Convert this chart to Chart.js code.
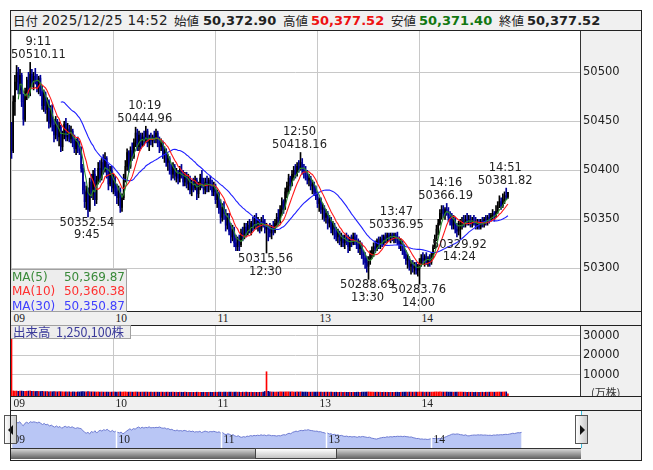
<!DOCTYPE html>
<html lang="ja">
<head>
<meta charset="utf-8">
<title>日経平均 分足</title>
<script src="https://cdn.jsdelivr.net/npm/chart.js@4.4.1/dist/chart.umd.min.js"></script>
<style>
  html, body { margin: 0; padding: 0; }
  body { width: 653px; height: 470px; position: relative; overflow: hidden; background: #fff;
         font-family: "DejaVu Sans", sans-serif; color: #222; }
  .a { position: absolute; }
  .grey { background: #f0f0f0; }
  .hl { position: absolute; height: 1px; background: #222; }
  .t { position: absolute; white-space: nowrap; }
  .hk { top: 11px; font: 12.5px/19px "Noto Sans CJK JP", sans-serif; color: #222; }
  .hd { top: 11px; font: 13.5px/19px "DejaVu Sans", sans-serif; letter-spacing: 0.3px; }
  .hv { top: 11px; font: bold 13px/19px "DejaVu Sans", sans-serif; }
  .hr { font: 11.5px/13px "Liberation Serif", serif; color: #222; }
  .lg { position: absolute; background: rgba(236, 236, 236, 0.92); border: 1px solid #a0a0a0; box-sizing: border-box; }
  .lg div { display: flex; justify-content: space-between; font: 12px/14.3px "DejaVu Sans", sans-serif; padding: 0 1px; }
  canvas { display: block; }
  .btn { position: absolute; width: 13px; height: 29px; box-sizing: border-box; border: 1px solid #555;
         background: linear-gradient(90deg, #fdfdfd, #c9c9c9); }
</style>
</head>
<body>
<!-- header -->
<div class="a grey" style="left:11px;top:11px;width:630px;height:19px"></div>
<span class="t hk" style="left:13px">日付</span>
<span class="t hd" style="left:42px">2025/12/25 14:52</span>
<span class="t hk" style="left:174px">始値</span>
<span class="t hv" style="left:203px">50,372.90</span>
<span class="t hk" style="left:283px">高値</span>
<span class="t hv" style="left:311px;color:#ee1111">50,377.52</span>
<span class="t hk" style="left:391px">安値</span>
<span class="t hv" style="left:419px;color:#117711">50,371.40</span>
<span class="t hk" style="left:499px">終値</span>
<span class="t hv" style="left:527px">50,377.52</span>
<div class="hl" style="left:10px;top:30px;width:632px"></div>

<!-- price panel -->
<div class="a grey" style="left:11px;top:31px;width:630px;height:280px"><canvas id="main" width="630" height="280"></canvas></div>
<div class="hl" style="left:10px;top:311px;width:632px"></div>
<div class="a grey" id="strip1" style="left:11px;top:312px;width:630px;height:13px"></div>
<div class="hl" style="left:10px;top:325px;width:632px"></div>

<!-- volume panel -->
<div class="a grey" style="left:11px;top:326px;width:630px;height:70px"><canvas id="vol" width="630" height="70"></canvas></div>
<span class="t" style="left:591px;top:385px;font:11px/14px 'Noto Sans CJK JP',sans-serif;color:#333">(万株)</span>
<div class="hl" style="left:10px;top:396px;width:632px"></div>
<div class="a grey" id="strip2" style="left:11px;top:397px;width:630px;height:13px"></div>
<div class="hl" style="left:10px;top:410px;width:632px"></div>

<!-- navigator -->
<div class="a grey" style="left:581px;top:411px;width:60px;height:49px"></div>
<div class="a" style="left:11px;top:411px;width:570px;height:37px;background:#fff"><canvas id="nav" width="570" height="37"></canvas></div>
<div class="a" style="left:11px;top:448px;width:570px;height:11px;box-sizing:border-box;border-top:1px solid #333;background:linear-gradient(#d6d6d6,#5e5e5e)"></div>
<div class="a" style="left:255px;top:448px;width:82px;height:11px;box-sizing:border-box;border:1px solid #444;background:linear-gradient(#ffffff,#c4c4c4)"></div>
<div class="a" style="left:10px;top:411px;width:1px;height:37px;background:#3cc0e0"></div>
<div class="a" style="left:581px;top:411px;width:1px;height:37px;background:#3cc0e0"></div>
<div class="btn" style="left:4px;top:415px"><div class="a" style="left:3px;top:9px;border-right:5px solid #111;border-top:5px solid transparent;border-bottom:5px solid transparent"></div></div>
<div class="btn" style="left:575px;top:415px"><div class="a" style="left:4px;top:9px;border-left:5px solid #111;border-top:5px solid transparent;border-bottom:5px solid transparent"></div></div>

<!-- legends -->
<div class="lg" style="left:10px;top:269px;width:117px;height:43px">
  <div style="color:#3a8a3a"><span>MA(5)</span><span>50,369.87</span></div>
  <div style="color:#ff3030"><span>MA(10)</span><span>50,360.38</span></div>
  <div style="color:#4040ff"><span>MA(30)</span><span>50,350.87</span></div>
</div>
<div class="lg" style="left:10px;top:325px;width:121px;height:14px;font:12.5px/12px 'Noto Sans CJK JP',sans-serif;color:#3a3a9a;padding-left:2px">出来高&nbsp;&nbsp;1,250,100株</div>

<!-- outer frame -->
<div class="a" style="left:10px;top:10px;width:632px;height:451px;border:1px solid #222;box-sizing:border-box;pointer-events:none"></div>

<script>
// ---- session slots: 09:00-11:30 and 12:30-14:52, one slot per minute
const hourIdx = [0, 60, 120, 180, 240];
const hourLabels = ['09', '10', '11', '13', '14'];
const priceTicks = [50300, 50350, 50400, 50450, 50500];
const volTicks = [10000, 20000, 30000];

const opens = [
  50448, 50420, 50470, 50490, 50500, 50482, 50497, 50470, 50452, 50480,
  50492, 50478, 50498, 50490, 50496, 50492, 50484, 50494, 50480, 50466,
  50478, 50462, 50470, 50448, 50460, 50446, 50436, 50450, 50434, 50444,
  50424, 50436, 50447, 50434, 50442, 50432, 50440, 50428, 50422, 50430,
  50424, 50420, 50402, 50380, 50368, 50378, 50360, 50388, 50376, 50396,
  50370, 50390, 50402, 50392, 50408, 50400, 50412, 50396, 50386, 50400,
  50382, 50392, 50378, 50372, 50380, 50362, 50372, 50392, 50404, 50418,
  50404, 50420, 50414, 50428, 50438, 50424, 50436, 50426, 50434, 50430,
  50440, 50428, 50432, 50430, 50434, 50432, 50438, 50428, 50424, 50428,
  50416, 50420, 50408, 50412, 50400, 50396, 50404, 50394, 50398, 50392,
  50400, 50396, 50388, 50394, 50386, 50392, 50380, 50386, 50382, 50390,
  50376, 50384, 50392, 50386, 50380, 50388, 50384, 50390, 50384, 50378,
  50384, 50370, 50376, 50360, 50352, 50362, 50356, 50344, 50352, 50338,
  50332, 50340, 50326, 50322, 50330, 50324, 50336, 50332, 50342, 50336,
  50344, 50340, 50346, 50342, 50350, 50344, 50348, 50340, 50348, 50346,
  50340, 50342, 50340, 50336, 50342, 50338, 50346, 50352, 50348, 50360,
  50368, 50362, 50378, 50384, 50392, 50386, 50396, 50400, 50396, 50404,
  50402, 50408, 50400, 50398, 50394, 50390, 50392, 50384, 50386, 50378,
  50374, 50366, 50370, 50360, 50362, 50352, 50356, 50346, 50350, 50340,
  50344, 50336, 50332, 50336, 50328, 50332, 50326, 50330, 50328, 50322,
  50330, 50326, 50332, 50328, 50324, 50320, 50324, 50314, 50310, 50306,
  50302, 50308, 50314, 50318, 50322, 50320, 50328, 50324, 50330, 50326,
  50332, 50330, 50334, 50332, 50334, 50330, 50334, 50330, 50328, 50324,
  50326, 50318, 50314, 50308, 50310, 50302, 50304, 50300, 50302, 50298,
  50300, 50306, 50310, 50308, 50312, 50306, 50310, 50306, 50314, 50322,
  50330, 50340, 50346, 50356, 50360, 50356, 50360, 50358, 50352, 50350,
  50344, 50350, 50340, 50338, 50344, 50346, 50348, 50346, 50350, 50348,
  50350, 50346, 50348, 50346, 50344, 50346, 50342, 50348, 50346, 50350,
  50348, 50352, 50350, 50354, 50356, 50354, 50358, 50362, 50368, 50364,
  50370, 50374, 50372.9
];
const highs = [
  50449, 50476, 50497, 50507, 50505, 50503, 50499, 50478, 50484, 50495,
  50500, 50510.11, 50503, 50500, 50504, 50498, 50496, 50497, 50486, 50482,
  50480, 50474, 50472, 50466, 50467, 50452, 50455, 50452, 50449, 50446,
  50440, 50450, 50453, 50448, 50446, 50445, 50442, 50436, 50432, 50434,
  50430, 50424, 50406, 50388, 50384, 50382, 50392, 50396, 50400, 50402,
  50394, 50408, 50410, 50412, 50416, 50418, 50414, 50406, 50404, 50404,
  50396, 50394, 50386, 50384, 50382, 50376, 50396, 50410, 50422, 50420,
  50424, 50428, 50432, 50444, 50442, 50440, 50438, 50438, 50440, 50444.96,
  50442, 50436, 50438, 50436, 50440, 50442, 50440, 50434, 50432, 50430,
  50424, 50422, 50416, 50414, 50406, 50408, 50406, 50402, 50400, 50404,
  50406, 50400, 50398, 50398, 50396, 50394, 50390, 50392, 50394, 50392,
  50388, 50396, 50400, 50392, 50392, 50394, 50392, 50394, 50390, 50388,
  50386, 50380, 50378, 50370, 50366, 50368, 50360, 50356, 50356, 50346,
  50344, 50342, 50334, 50332, 50334, 50340, 50342, 50346, 50346, 50348,
  50350, 50348, 50352, 50354, 50356, 50352, 50350, 50352, 50354, 50350,
  50346, 50344, 50346, 50344, 50348, 50350, 50356, 50360, 50364, 50372,
  50370, 50382, 50388, 50396, 50394, 50400, 50404, 50406, 50408, 50410,
  50418.16, 50412, 50406, 50404, 50400, 50396, 50394, 50390, 50388, 50384,
  50378, 50372, 50372, 50366, 50364, 50360, 50358, 50354, 50352, 50348,
  50346, 50342, 50340, 50338, 50336, 50334, 50334, 50336, 50334, 50332,
  50334, 50336, 50336, 50334, 50330, 50328, 50326, 50318, 50316, 50312,
  50312, 50318, 50322, 50326, 50328, 50330, 50332, 50332, 50334, 50334,
  50336, 50336, 50336, 50336, 50336, 50336, 50336, 50336.95, 50332, 50330,
  50328, 50324, 50318, 50314, 50312, 50308, 50308, 50306, 50306, 50304,
  50310, 50314, 50316, 50314, 50316, 50312, 50314, 50316, 50324, 50334,
  50344, 50350, 50360, 50364, 50364, 50362, 50366.19, 50362, 50358, 50356,
  50354, 50352, 50346, 50348, 50350, 50352, 50354, 50354, 50356, 50354,
  50354, 50352, 50354, 50352, 50350, 50350, 50350, 50352, 50352, 50354,
  50354, 50356, 50356, 50360, 50358, 50364, 50368, 50374, 50372, 50376,
  50378, 50381.82, 50377.52
];
const lows = [
  50412, 50418, 50456, 50482, 50478, 50478, 50465, 50446, 50450, 50472,
  50474, 50476, 50485, 50482, 50488, 50480, 50478, 50476, 50462, 50460,
  50458, 50450, 50443, 50444, 50440, 50429, 50432, 50430, 50425, 50419,
  50420, 50432, 50430, 50430, 50429, 50428, 50424, 50418, 50416, 50418,
  50416, 50398, 50376, 50362, 50360, 50352.54, 50358, 50372, 50370, 50364,
  50366, 50386, 50388, 50390, 50396, 50398, 50392, 50380, 50384, 50378,
  50376, 50374, 50366, 50364, 50357, 50358, 50370, 50388, 50400, 50398,
  50402, 50410, 50412, 50424, 50420, 50420, 50422, 50424, 50426, 50428,
  50424, 50420, 50426, 50424, 50428, 50428, 50424, 50418, 50420, 50412,
  50408, 50404, 50400, 50396, 50390, 50392, 50390, 50388, 50386, 50388,
  50392, 50384, 50384, 50382, 50380, 50376, 50374, 50378, 50380, 50370,
  50372, 50380, 50382, 50376, 50376, 50378, 50378, 50380, 50374, 50374,
  50366, 50362, 50356, 50346, 50348, 50350, 50338, 50340, 50334, 50326,
  50328, 50322, 50318, 50318, 50318, 50322, 50328, 50330, 50332, 50334,
  50336, 50334, 50338, 50340, 50340, 50338, 50336, 50338, 50342, 50336,
  50315.56, 50328, 50332, 50330, 50334, 50336, 50342, 50344, 50346, 50354,
  50356, 50360, 50372, 50376, 50380, 50384, 50390, 50392, 50394, 50398,
  50400, 50396, 50392, 50390, 50386, 50384, 50380, 50376, 50374, 50370,
  50362, 50358, 50356, 50350, 50348, 50346, 50340, 50342, 50336, 50334,
  50330, 50328, 50326, 50324, 50322, 50322, 50320, 50324, 50316, 50318,
  50322, 50324, 50324, 50320, 50316, 50314, 50310, 50304, 50300, 50296,
  50288.69, 50304, 50310, 50312, 50316, 50318, 50320, 50320, 50322, 50324,
  50326, 50326, 50328, 50326, 50328, 50326, 50326, 50324, 50320, 50318,
  50314, 50310, 50304, 50300, 50298, 50294, 50296, 50294, 50294, 50292,
  50283.76, 50302, 50304, 50302, 50304, 50302, 50302, 50304, 50310, 50320,
  50328, 50334, 50344, 50350, 50352, 50350, 50354, 50348, 50344, 50340,
  50340, 50336, 50332, 50334, 50329.92, 50340, 50342, 50342, 50344, 50344,
  50342, 50342, 50344, 50340, 50340, 50340, 50340, 50342, 50342, 50344,
  50344, 50346, 50348, 50350, 50348, 50352, 50356, 50362, 50360, 50362,
  50366, 50370, 50371.4
];
const closes = [
  50420, 50470, 50490, 50500, 50482, 50497, 50470, 50452, 50480, 50492,
  50478, 50498, 50490, 50496, 50492, 50484, 50494, 50480, 50466, 50478,
  50462, 50470, 50448, 50460, 50446, 50436, 50450, 50434, 50444, 50424,
  50436, 50447, 50434, 50442, 50432, 50440, 50428, 50422, 50430, 50424,
  50420, 50402, 50380, 50368, 50378, 50360, 50388, 50376, 50396, 50370,
  50390, 50402, 50392, 50408, 50400, 50412, 50396, 50386, 50400, 50382,
  50392, 50378, 50372, 50380, 50362, 50372, 50392, 50404, 50418, 50404,
  50420, 50414, 50428, 50438, 50424, 50436, 50426, 50434, 50430, 50440,
  50428, 50432, 50430, 50434, 50432, 50438, 50428, 50424, 50428, 50416,
  50420, 50408, 50412, 50400, 50396, 50404, 50394, 50398, 50392, 50400,
  50396, 50388, 50394, 50386, 50392, 50380, 50386, 50382, 50390, 50376,
  50384, 50392, 50386, 50380, 50388, 50384, 50390, 50384, 50378, 50384,
  50370, 50376, 50360, 50352, 50362, 50356, 50344, 50352, 50338, 50332,
  50340, 50326, 50322, 50330, 50324, 50336, 50332, 50342, 50336, 50344,
  50340, 50346, 50342, 50350, 50344, 50348, 50340, 50348, 50346, 50340,
  50342, 50340, 50336, 50342, 50338, 50346, 50352, 50348, 50360, 50368,
  50362, 50378, 50384, 50392, 50386, 50396, 50400, 50396, 50404, 50402,
  50408, 50400, 50398, 50394, 50390, 50392, 50384, 50386, 50378, 50374,
  50366, 50370, 50360, 50362, 50352, 50356, 50346, 50350, 50340, 50344,
  50336, 50332, 50336, 50328, 50332, 50326, 50330, 50328, 50322, 50330,
  50326, 50332, 50328, 50324, 50320, 50324, 50314, 50310, 50306, 50302,
  50308, 50314, 50318, 50322, 50320, 50328, 50324, 50330, 50326, 50332,
  50330, 50334, 50332, 50334, 50330, 50334, 50330, 50328, 50324, 50326,
  50318, 50314, 50308, 50310, 50302, 50304, 50300, 50302, 50298, 50300,
  50306, 50310, 50308, 50312, 50306, 50310, 50306, 50314, 50322, 50330,
  50340, 50346, 50356, 50360, 50356, 50360, 50358, 50352, 50350, 50344,
  50350, 50340, 50338, 50344, 50346, 50348, 50346, 50350, 50348, 50350,
  50346, 50348, 50346, 50344, 50346, 50342, 50348, 50346, 50350, 50348,
  50352, 50350, 50354, 50356, 50354, 50358, 50362, 50368, 50364, 50370,
  50374, 50372.9, 50377.52
];
// volume in 万株
const volumes = [
  36000, 1620, 1480, 1550, 1390, 1460, 1520, 1410, 1380, 1440,
  1500, 1560, 1350, 1420, 1300, 1380, 1330, 1290, 1360, 1270,
  1240, 1310, 1180, 1220, 1150, 1260, 1190, 1120, 1210, 1170,
  1130, 1090, 1160, 1080, 1120, 1050, 1100, 1070, 1040, 1110,
  1060, 1180, 1230, 1150, 1120, 1200, 1140, 1090, 1130, 1070,
  1040, 1080, 1020, 1060, 990, 1050, 1010, 980, 1030, 1000,
  1070, 1020, 990, 1040, 1080, 1010, 1050, 1090, 1030, 1000,
  1020, 980, 1040, 1060, 1010, 990, 970, 1000, 960, 1030,
  990, 950, 980, 940, 970, 1000, 960, 930, 980, 950,
  920, 960, 940, 910, 950, 930, 900, 940, 920, 960,
  910, 890, 930, 900, 880, 920, 890, 870, 910, 940,
  900, 880, 920, 890, 860, 900, 880, 910, 870, 890,
  930, 900, 950, 970, 920, 940, 980, 930, 960, 990,
  950, 970, 1000, 940, 960, 920, 950, 900, 930, 910,
  890, 920, 880, 900, 870, 910, 890, 920, 950, 1300,
  11500, 1380, 1120, 1050, 1010, 980, 1030, 1000, 1060, 1090,
  1040, 1100, 1070, 1120, 1050, 1080, 1030, 1000, 1060, 1020,
  1110, 1040, 990, 1020, 970, 1000, 960, 990, 950, 980,
  1010, 960, 990, 940, 970, 950, 980, 930, 960, 940,
  910, 950, 920, 900, 930, 890, 920, 880, 910, 900,
  870, 900, 880, 920, 940, 910, 960, 980, 1000, 1030,
  1080, 1010, 970, 950, 930, 960, 920, 940, 900, 930,
  890, 910, 880, 900, 870, 890, 910, 930, 900, 920,
  950, 970, 990, 960, 1000, 970, 950, 980, 940, 960,
  1050, 990, 960, 940, 970, 930, 950, 980, 1020, 1060,
  1090, 1040, 1080, 1020, 1000, 990, 1030, 970, 950, 980,
  940, 970, 950, 990, 1010, 960, 930, 950, 920, 940,
  910, 930, 900, 920, 890, 910, 900, 930, 920, 950,
  940, 960, 930, 970, 950, 990, 1010, 1040, 1000, 1030,
  1060, 1090, 125
];
// high / low callouts shown on the price chart
const marks = [
  { i: 11, v: 50510.11, t: '9:11', hi: true },
  { i: 45, v: 50352.54, t: '9:45', hi: false },
  { i: 79, v: 50444.96, t: '10:19', hi: true },
  { i: 150, v: 50315.56, t: '12:30', hi: false },
  { i: 170, v: 50418.16, t: '12:50', hi: true },
  { i: 210, v: 50288.69, t: '13:30', hi: false },
  { i: 227, v: 50336.95, t: '13:47', hi: true },
  { i: 240, v: 50283.76, t: '14:00', hi: false },
  { i: 256, v: 50366.19, t: '14:16', hi: true },
  { i: 264, v: 50329.92, t: '14:24', hi: false },
  { i: 291, v: 50381.82, t: '14:51', hi: true }
];

const UP = '#000000', DOWN = '#000098';
const X_MIN = -0.294, X_MAX = 334.4;

Chart.defaults.font.family = '"DejaVu Sans", sans-serif';
Chart.defaults.animation = false;

function sma(n) {
  const out = [];
  for (let i = n - 1; i < closes.length; i++) {
    let s = 0;
    for (let k = i - n + 1; k <= i; k++) s += closes[k];
    out.push({ x: i, y: s / n });
  }
  return out;
}

const candleColors = closes.map((c, i) => (c >= opens[i] ? UP : DOWN));
const wicks = closes.map((c, i) => ({ x: i, y: [lows[i], highs[i]] }));
const bodies = closes.map((c, i) => ({ x: i, y: [opens[i], c] }));

// white plot area on the grey panel
const whitePlot = {
  id: 'whitePlot',
  beforeDraw(chart) {
    const { ctx, chartArea: a } = chart;
    ctx.save();
    ctx.fillStyle = '#fff';
    ctx.fillRect(a.left, a.top, a.right - a.left, a.bottom - a.top);
    ctx.restore();
  }
};

const callouts = {
  id: 'callouts',
  afterDatasetsDraw(chart) {
    const { ctx, chartArea: a, scales: { x, y } } = chart;
    ctx.save();
    ctx.font = '11.5px "DejaVu Sans"';
    ctx.fillStyle = '#222';
    ctx.textAlign = 'center';
    ctx.textBaseline = 'middle';
    marks.forEach(m => {
      const px = x.getPixelForValue(m.i);
      const py = y.getPixelForValue(m.v);
      const price = m.v.toFixed(2);
      const w = Math.max(ctx.measureText(price).width, ctx.measureText(m.t).width);
      const cx = Math.min(Math.max(px - 1, a.left + w / 2), a.right - w / 2);
      if (m.hi) {
        ctx.fillText(m.t, cx, py - 20.5);
        ctx.fillText(price, cx, py - 7);
      } else {
        ctx.fillText(price, cx, py + 6);
        ctx.fillText(m.t, cx, py + 18.5);
      }
    });
    ctx.restore();
  }
};

const xScale = {
  type: 'linear', min: X_MIN, max: X_MAX, offset: false,
  grid: { color: '#c8c8c8', drawTicks: false, offset: false },
  border: { display: false },
  ticks: { display: false },
  afterBuildTicks: s => { s.ticks = hourIdx.map(v => ({ value: v })); },
  afterFit: s => { s.height = 0; s.paddingLeft = 0; s.paddingRight = 0; }
};

function yScale(min, max, ticks) {
  return {
    position: 'right', min, max,
    grid: { color: '#c8c8c8', drawTicks: false },
    border: { color: '#333' },
    ticks: { padding: 3, color: '#222', font: { size: 11.5 }, callback: v => String(v) },
    afterBuildTicks: s => { s.ticks = ticks.map(v => ({ value: v })); },
    // fixed axis width, and no label padding so the plot fills the panel
    afterFit: s => { s.width = 61; s.paddingTop = 0; s.paddingBottom = 0; }
  };
}

const mainChart = new Chart(document.getElementById('main'), {
  data: {
    datasets: [
      { type: 'line', data: sma(5), borderColor: '#2e8a2e', borderWidth: 1.1, pointRadius: 0, order: 0 },
      { type: 'line', data: sma(10), borderColor: '#ff1a1a', borderWidth: 1.1, pointRadius: 0, order: 0 },
      { type: 'line', data: sma(30), borderColor: '#2020ff', borderWidth: 1.1, pointRadius: 0, order: 0 },
      { type: 'bar', data: bodies, backgroundColor: candleColors, barThickness: 1, minBarLength: 1, grouped: false, order: 1 },
      { type: 'bar', data: wicks, backgroundColor: candleColors, barThickness: 1, grouped: false, order: 2 }
    ]
  },
  options: {
    responsive: false,
    devicePixelRatio: 1,
    layout: { padding: 0 },
    plugins: { legend: { display: false }, tooltip: { enabled: false } },
    scales: { x: xScale, y: yScale(50256.43, 50542.14, priceTicks) }
  },
  plugins: [whitePlot, callouts]
});

new Chart(document.getElementById('vol'), {
  type: 'bar',
  data: {
    datasets: [{
      data: volumes.map((v, i) => ({ x: i, y: v })),
      backgroundColor: closes.map((c, i) => (i === 0 || c >= closes[i - 1] ? '#ff0000' : '#000080')),
      barThickness: 1, base: -1034, grouped: false
    }]
  },
  options: {
    responsive: false,
    devicePixelRatio: 1,
    layout: { padding: 0 },
    plugins: { legend: { display: false }, tooltip: { enabled: false } },
    scales: { x: xScale, y: yScale(-1034, 35142, volTicks) }
  },
  plugins: [whitePlot]
});

// navigator: whole session overview
const navMarks = {
  id: 'navMarks',
  afterDatasetsDraw(chart) {
    const { ctx, chartArea: a, scales: { x } } = chart;
    ctx.save();
    ctx.strokeStyle = '#fff';
    ctx.lineWidth = 1.5;
    ctx.font = '11.5px "Liberation Serif"';
    ctx.fillStyle = '#222';
    ctx.textBaseline = 'middle';
    hourIdx.forEach((h, k) => {
      const px = Math.round(x.getPixelForValue(h)) + 0.5;
      ctx.beginPath();
      ctx.moveTo(px, a.top);
      ctx.lineTo(px, a.bottom);
      ctx.stroke();
      ctx.fillText(hourLabels[k], px + 2, a.bottom - 8);
    });
    ctx.restore();
  }
};

new Chart(document.getElementById('nav'), {
  type: 'line',
  data: {
    datasets: [{
      data: closes.map((c, i) => ({ x: i, y: c })),
      borderColor: '#6f7cd2', borderWidth: 1, backgroundColor: '#b9c6f5',
      fill: 'start', pointRadius: 0
    }]
  },
  options: {
    responsive: false,
    devicePixelRatio: 1,
    layout: { padding: 0 },
    plugins: { legend: { display: false }, tooltip: { enabled: false } },
    scales: {
      x: { type: 'linear', min: 0, max: 326, display: false },
      y: { min: 50202, max: 50618, display: false }
    }
  },
  plugins: [navMarks]
});

// hour labels in the two grey strips, placed from the price chart's x scale
['strip1', 'strip2'].forEach(id => {
  const strip = document.getElementById(id);
  hourIdx.forEach((h, k) => {
    const s = document.createElement('span');
    s.className = 't hr';
    s.textContent = hourLabels[k];
    s.style.left = (mainChart.scales.x.getPixelForValue(h) + 2) + 'px';
    s.style.top = '0px';
    strip.appendChild(s);
  });
});
</script>
</body>
</html>
